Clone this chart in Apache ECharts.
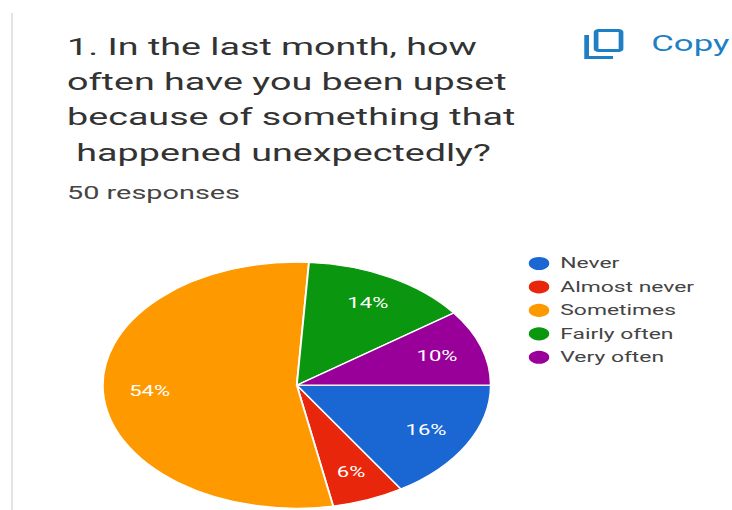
<!DOCTYPE html>
<html>
<head>
<meta charset="utf-8">
<style>
  html, body { margin: 0; padding: 0; background: #fff; overflow: hidden; }
  /* The whole form card is drawn wide: 1.577 times its natural width. */
  #chart { width: 464.2px; height: 510px; transform-origin: 0 0; transform: scaleX(1.577); }
</style>
<script src="https://cdn.jsdelivr.net/npm/echarts@6/dist/echarts.min.js"></script>
</head>
<body>
<div id="chart"></div>
<script>
const categories = ['Never', 'Almost never', 'Sometimes', 'Fairly often', 'Very often'];
const percents = [16, 6, 54, 14, 10];
const colors = ['#1a66d2', '#e8260c', '#ff9900', '#0a960f', '#990099'];
const questionLines = [
  '1. In the last month, how',
  'often have you been upset',
  'because of something that',
  '\u00a0happened unexpectedly?'
];
const responsesText = '50 responses';
const copyText = 'Copy';

const FONT = 'Roboto, sans-serif';
const pieCenter = [188.2, 385.2];
const pieRadius = 123;
const labelRadius = pieRadius * 0.76;

// Middle angle of each slice in radians, clockwise from 3 o'clock.
const total = percents.reduce((a, b) => a + b, 0);
let running = 0;
const midAngles = percents.map(v => {
  const mid = (running + v / 2) / total * Math.PI * 2;
  running += v;
  return mid;
});

const chart = echarts.init(document.getElementById('chart'), null, { renderer: 'svg' });
chart.setOption({
  animation: false,
  backgroundColor: '#fff',
  color: colors,
  title: [
    {
      text: questionLines.join('\n'),
      left: 37.5,
      top: 24.2,
      textStyle: { fontFamily: FONT, fontSize: 23.9, fontWeight: 400, lineHeight: 35.3, color: '#333' }
    },
    {
      text: responsesText,
      left: 37.5,
      top: 179,
      textStyle: { fontFamily: FONT, fontSize: 18.3, fontWeight: 400, color: '#444' }
    },
    {
      text: copyText,
      left: 408,
      top: 27.5,
      textStyle: { fontFamily: FONT, fontSize: 22, fontWeight: 400, color: '#1f7fc4' }
    }
  ],
  legend: {
    orient: 'vertical',
    left: 328.3,
    top: 250,
    icon: 'circle',
    itemWidth: 15,
    itemHeight: 22,
    itemGap: 6.45,
    textStyle: { fontFamily: FONT, fontSize: 14.5, color: '#444', padding: [0, 0, 0, 1] },
    data: categories
  },
  graphic: [
    // Card edge on the left
    { type: 'rect', shape: { x: 7, y: 13, width: 1.2, height: 497 }, style: { fill: '#e2e2e2' } },
    // Copy icon: front square and the back sheet's corner
    {
      type: 'rect',
      shape: { x: 378, y: 30.5, width: 15.8, height: 20, r: 1.5 },
      style: { fill: 'none', stroke: '#1f7fc4', lineWidth: 3 }
    },
    {
      type: 'polyline',
      shape: { points: [[372, 35], [372, 57.5], [388.7, 57.5]] },
      style: { fill: 'none', stroke: '#1f7fc4', lineWidth: 3 }
    }
  ],
  series: [{
    type: 'pie',
    center: pieCenter,
    radius: [0, pieRadius],
    startAngle: 0,
    clockwise: true,
    avoidLabelOverlap: false,
    itemStyle: { borderColor: '#fff', borderWidth: 1.2 },
    label: {
      position: 'inside',
      formatter: '{c}%',
      fontFamily: FONT,
      fontSize: 14,
      color: '#fff'
    },
    labelLine: { show: false },
    // Labels sit on one ring, three quarters of the way out to the rim.
    labelLayout: function (params) {
      const a = midAngles[params.dataIndex];
      return {
        x: pieCenter[0] + labelRadius * Math.cos(a),
        y: pieCenter[1] + labelRadius * Math.sin(a),
        align: 'center',
        verticalAlign: 'middle'
      };
    },
    data: categories.map((name, i) => ({ name, value: percents[i] }))
  }]
});
</script>
</body>
</html>
